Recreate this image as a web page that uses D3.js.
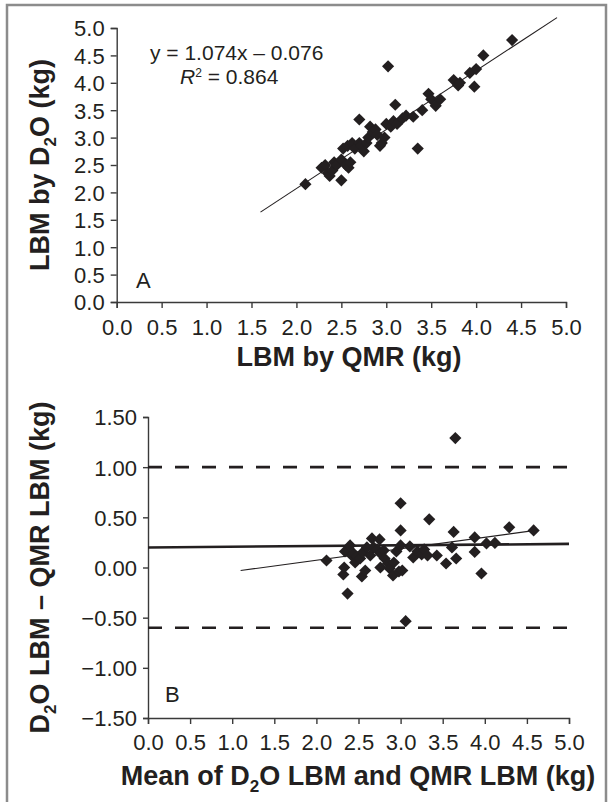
<!DOCTYPE html>
<meta charset="utf-8">
<head>
<style>
html, body{margin:0px; padding:0px; background:#fff;}
svg text{font-family:"Liberation Sans", Arial, sans-serif; fill:#231f20;}
.axis path, .axis line{stroke:#3a3a3a; stroke-width:1.4;}
.axis text{font-size:22px;}
</style>
</head>
<script src="https://d3js.org/d3.v7.min.js"></script>

<div id="chart"></div>

<script>

// Panel A: LBM by QMR (x) against LBM by D2O (y), kg
var qmrA = [2.10,2.28,2.32,2.35,2.37,2.40,2.42,2.45,2.50,2.50,2.55,2.58,2.60,2.52,2.57,2.62,2.65,2.70,2.70,2.72,2.75,2.78,2.80,2.82,2.85,2.88,2.90,2.93,2.95,2.98,3.00,3.02,3.05,3.08,3.10,3.12,3.18,3.22,3.30,3.35,3.40,3.47,3.50,3.55,3.60,3.75,3.80,3.82,3.93,4.00,3.98,4.08,4.40];
var d2oA = [2.15,2.45,2.50,2.35,2.30,2.40,2.55,2.50,2.22,2.60,2.50,2.45,2.55,2.80,2.85,2.90,2.80,3.33,2.90,2.85,2.75,2.90,3.00,3.20,3.10,3.15,3.05,2.85,2.90,3.00,3.25,4.30,3.20,3.30,3.60,3.25,3.35,3.40,3.38,2.80,3.50,3.80,3.70,3.58,3.70,4.05,3.95,4.00,4.18,4.25,3.93,4.50,4.78];
// regression line ends
var fitAx = [1.6, 4.9];
var fitAy = [1.64, 5.19];
var ticksA = [0,0.5,1,1.5,2,2.5,3,3.5,4,4.5,5];

// Panel B: mean of the two methods (x) against D2O - QMR (y), kg
var meanB = [2.12,2.32,2.33,2.34,2.37,2.40,2.42,2.44,2.46,2.48,2.52,2.54,2.58,2.55,2.60,2.64,2.66,2.68,2.72,2.75,2.76,2.76,2.80,2.81,2.85,2.87,2.91,2.92,2.95,2.98,3.00,3.00,3.00,3.02,3.06,3.11,3.15,3.20,3.25,3.28,3.32,3.34,3.43,3.54,3.61,3.63,3.65,3.66,3.88,3.88,3.96,4.02,4.12,4.29,4.58];
var diffB = [0.07,-0.07,0.00,0.16,-0.26,0.22,0.12,0.14,0.05,0.11,0.09,-0.09,-0.03,0.15,0.20,0.12,0.29,0.20,0.18,0.28,0.14,0.00,0.17,0.09,0.04,-0.01,-0.08,0.05,0.16,-0.04,0.22,0.37,0.64,-0.03,-0.535,0.21,0.10,0.16,0.13,0.18,0.12,0.48,0.12,0.04,0.20,0.355,1.29,0.09,0.155,0.30,-0.06,0.24,0.245,0.40,0.37];
var biasX = [0, 5], biasY = [0.20, 0.235];
var fitBx = [1.1, 4.6], fitBy = [-0.03, 0.37];
var limitsB = [1.00, -0.60];
var ticksBx = [0,0.5,1,1.5,2,2.5,3,3.5,4,4.5,5];
var ticksBy = [-1.5,-1,-0.5,0,0.5,1,1.5];

var width = 610, height = 802;
var ink = "#231f20";

var svg = d3.select("#chart")
  .append("svg")
    .attr("width", width)
    .attr("height", height);

// page frame
svg.append("path")
  .attr("d", "M7,810V5H606V810")
  .attr("fill", "none")
  .attr("stroke", "#8c8c8c")
  .attr("stroke-width", 2.5);

var diamond = d3.symbol().type(d3.symbolSquare).size(74);

// ---------- panel A ----------
var xA = d3.scaleLinear().domain([0, 5]).range([116.7, 566]);
var yA = d3.scaleLinear().domain([0, 5]).range([302, 28]);

svg.append("g")
  .attr("class", "axis")
  .attr("transform", "translate(0," + yA(0) + ")")
  .call(d3.axisBottom(xA).tickValues(ticksA).tickFormat(d3.format(".1f")).tickSizeOuter(0).tickSize(6).tickPadding(11));

svg.append("g")
  .attr("class", "axis")
  .attr("transform", "translate(" + xA(0) + ",0)")
  .call(d3.axisLeft(yA).tickValues(ticksA).tickFormat(d3.format(".1f")).tickSizeOuter(0).tickSize(6).tickPadding(6))
  .selectAll("text").attr("dy", "0.36em");

svg.append("line")
  .attr("x1", xA(fitAx[0])).attr("y1", yA(fitAy[0]))
  .attr("x2", xA(fitAx[1])).attr("y2", yA(fitAy[1]))
  .attr("stroke", ink).attr("stroke-width", 1.1);

svg.append("g").selectAll("path")
  .data(qmrA.map(function(d, i) { return [d, d2oA[i]]; }))
  .enter()
  .append("path")
    .attr("d", diamond)
    .attr("transform", function(d) { return "translate(" + xA(d[0]) + "," + yA(d[1]) + ") rotate(45)"; })
    .attr("fill", ink);

svg.append("text")
  .attr("x", 150).attr("y", 60)
  .style("font-size", "21px")
  .text("y = 1.074x \u2013 0.076");

var r2 = svg.append("text")
  .attr("x", 180).attr("y", 84)
  .style("font-size", "21px");
r2.append("tspan").style("font-style", "italic").text("R");
r2.append("tspan").attr("dy", -7).style("font-size", "12px").text("2");
r2.append("tspan").attr("dy", 7).text(" = 0.864");

svg.append("text")
  .attr("x", 136).attr("y", 288)
  .style("font-size", "22px")
  .text("A");

svg.append("text")
  .attr("x", 349).attr("y", 366)
  .attr("text-anchor", "middle")
  .style("font-size", "27px").style("font-weight", "bold")
  .text("LBM by QMR (kg)");

var ylabA = svg.append("text")
  .attr("transform", "translate(49," + (yA(0) + yA(5)) / 2 + ") rotate(-90)")
  .attr("text-anchor", "middle")
  .style("font-size", "27px").style("font-weight", "bold");
ylabA.append("tspan").text("LBM by D");
ylabA.append("tspan").attr("dy", 7).style("font-size", "17px").text("2");
ylabA.append("tspan").attr("dy", -7).text("O (kg)");

// ---------- panel B ----------
var xB = d3.scaleLinear().domain([0, 5]).range([148, 569]);
var yB = d3.scaleLinear().domain([-1.5, 1.5]).range([718, 417]);

svg.append("g")
  .attr("class", "axis")
  .attr("transform", "translate(0," + yB(-1.5) + ")")
  .call(d3.axisBottom(xB).tickValues(ticksBx).tickFormat(d3.format(".1f")).tickSizeOuter(0).tickSize(6).tickPadding(10));

svg.append("g")
  .attr("class", "axis")
  .attr("transform", "translate(" + xB(0) + ",0)")
  .call(d3.axisLeft(yB).tickValues(ticksBy).tickFormat(d3.format(".2f")).tickSizeOuter(0).tickSize(5).tickPadding(6))
  .selectAll("text").attr("dy", "0.36em");

svg.append("g").selectAll("line")
  .data(limitsB)
  .enter()
  .append("line")
    .attr("x1", xB(0)).attr("x2", xB(5))
    .attr("y1", function(d) { return yB(d); })
    .attr("y2", function(d) { return yB(d); })
    .attr("stroke", ink).attr("stroke-width", 2.6)
    .attr("stroke-dasharray", "14,13");

svg.append("line")
  .attr("x1", xB(biasX[0])).attr("y1", yB(biasY[0]))
  .attr("x2", xB(biasX[1])).attr("y2", yB(biasY[1]))
  .attr("stroke", ink).attr("stroke-width", 2.6);

svg.append("line")
  .attr("x1", xB(fitBx[0])).attr("y1", yB(fitBy[0]))
  .attr("x2", xB(fitBx[1])).attr("y2", yB(fitBy[1]))
  .attr("stroke", ink).attr("stroke-width", 1.1);

svg.append("g").selectAll("path")
  .data(meanB.map(function(d, i) { return [d, diffB[i]]; }))
  .enter()
  .append("path")
    .attr("d", diamond)
    .attr("transform", function(d) { return "translate(" + xB(d[0]) + "," + yB(d[1]) + ") rotate(45)"; })
    .attr("fill", ink);

svg.append("text")
  .attr("x", 165).attr("y", 702)
  .style("font-size", "22px")
  .text("B");

var xlabB = svg.append("text")
  .attr("x", 358).attr("y", 785)
  .attr("text-anchor", "middle")
  .style("font-size", "27px").style("font-weight", "bold");
xlabB.append("tspan").text("Mean of D");
xlabB.append("tspan").attr("dy", 7).style("font-size", "17px").text("2");
xlabB.append("tspan").attr("dy", -7).text("O LBM and QMR LBM (kg)");

var ylabB = svg.append("text")
  .attr("transform", "translate(49," + (yB(-1.5) + yB(1.5)) / 2 + ") rotate(-90)")
  .attr("text-anchor", "middle")
  .style("font-size", "27px").style("font-weight", "bold");
ylabB.append("tspan").text("D");
ylabB.append("tspan").attr("dy", 7).style("font-size", "17px").text("2");
ylabB.append("tspan").attr("dy", -7).text("O LBM \u2013 QMR LBM (kg)");

</script>
</html>
